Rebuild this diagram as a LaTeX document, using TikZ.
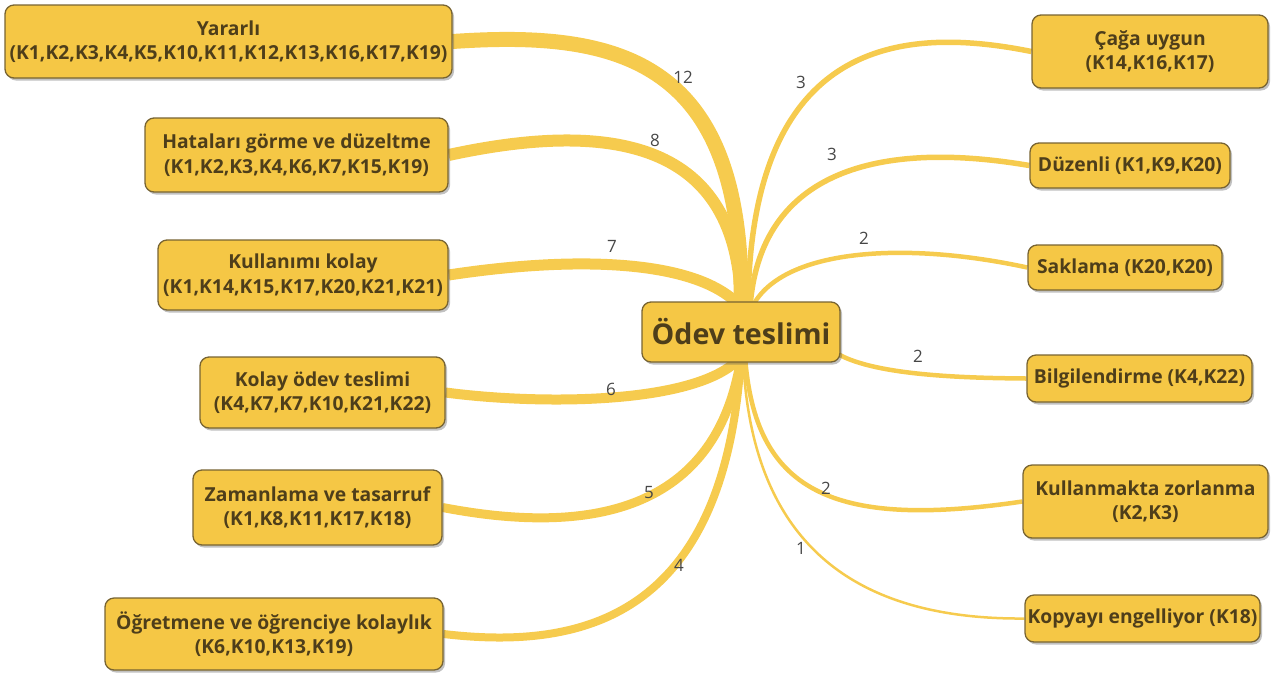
\documentclass[tikz,border=0pt]{standalone}
\usepackage{fontspec}
\setmainfont{Open Sans}
\usetikzlibrary{shadows,backgrounds,calc}
\definecolor{boxfill}{RGB}{245,199,69}
\definecolor{linecol}{RGB}{246,203,78}
\definecolor{boxdraw}{RGB}{120,100,50}
\definecolor{boxtext}{RGB}{78,62,26}
\definecolor{numcol}{RGB}{70,70,70}
\tikzset{
  box/.style={draw=boxdraw, line width=1.3pt, fill=boxfill, rounded corners=9pt,
    text=boxtext, font=\fontsize{19.3}{24.5}\selectfont\bfseries, align=center, inner sep=0pt,
    drop shadow={shadow xshift=2pt, shadow yshift=-2.5pt, opacity=0.35, fill=black!70}},
  centerbox/.style={box, font=\fontsize{28.6}{32}\selectfont\bfseries},
  branch/.style={draw=linecol, line cap=butt},
  num/.style={text=numcol, font=\fontsize{17}{20}\selectfont, inner sep=0pt},
}
\begin{document}
\begin{tikzpicture}[x=1pt,y=-1pt]
\useasboundingbox (0,0) rectangle (1279,673);

% centre
\node[centerbox, minimum width=198pt, minimum height=60pt] (C) at (741,332) {Ödev teslimi};

% left
\node[box, minimum width=447pt, minimum height=73pt] (L1) at (228.5,41.5) {Yararlı\\(K1,K2,K3,K4,K5,K10,K11,K12,K13,K16,K17,K19)};
\node[box, minimum width=303pt, minimum height=74pt] (L2) at (296.5,155) {Hataları görme ve düzeltme\\(K1,K2,K3,K4,K6,K7,K15,K19)};
\node[box, minimum width=290pt, minimum height=70pt] (L3) at (303,275) {Kullanımı kolay\\(K1,K14,K15,K17,K20,K21,K21)};
\node[box, minimum width=245pt, minimum height=71pt] (L4) at (322.5,392.5) {Kolay ödev teslimi\\(K4,K7,K7,K10,K21,K22)};
\node[box, minimum width=249pt, minimum height=75pt] (L5) at (317.5,507.5) {Zamanlama ve tasarruf\\(K1,K8,K11,K17,K18)};
\node[box, minimum width=338pt, minimum height=72pt] (L6) at (274,634) {Öğretmene ve öğrenciye kolaylık\\(K6,K10,K13,K19)};

% right
\node[box, minimum width=236pt, minimum height=73pt] (R1) at (1150,51.5) {Çağa uygun\\(K14,K16,K17)};
\node[box, minimum width=200pt, minimum height=45pt] (R2) at (1130,165.5) {Düzenli (K1,K9,K20)};
\node[box, minimum width=194pt, minimum height=45pt] (R3) at (1125,267.5) {Saklama (K20,K20)};
\node[box, minimum width=225pt, minimum height=47pt] (R4) at (1139.5,378.5) {Bilgilendirme (K4,K22)};
\node[box, minimum width=245pt, minimum height=73pt] (R5) at (1145.5,501.5) {Kullanmakta zorlanma\\(K2,K3)};
\node[box, minimum width=235pt, minimum height=47pt] (R6) at (1142.5,618.5) {Kopyayı engelliyor (K18)};

% branches
\begin{scope}[on background layer]
  \draw[branch, line width=15pt] (L1.east) .. controls (620,30) and (745,60) .. ([yshift=-6pt]C.north);
  \draw[branch, line width=12pt] (L2.east) .. controls (610,120) and (740,140) .. ([yshift=-6pt]C.north);
  \draw[branch, line width=11pt] (L3.east) .. controls (580,255) and (700,260) .. ([yshift=-6pt]C.north);
  \draw[branch, line width=10pt] (L4.east) .. controls (540,405) and (700,405) .. ([yshift=6pt]C.south);
  \draw[branch, line width=9pt] (L5.east) .. controls (560,530) and (715,530) .. ([yshift=6pt]C.south);
  \draw[branch, line width=8pt] (L6.east) .. controls (580,650) and (725,620) .. ([yshift=6pt]C.south);

  \draw[branch, line width=5.5pt] ([xshift=7pt,yshift=-6pt]C.north) .. controls (750,40) and (900,25) .. (R1.west);
  \draw[branch, line width=5.5pt] ([xshift=9pt,yshift=-6pt]C.north) .. controls (760,170) and (880,140) .. (R2.west);
  \draw[branch, line width=4.5pt] ([xshift=11pt,yshift=-6pt]C.north) .. controls (780,250) and (900,240) .. (R3.west);
  \draw[branch, line width=4.5pt] ($(C.east)+(-6,20)$) .. controls (870,375) and (960,378) .. (R4.west);
  \draw[branch, line width=4.5pt] ([xshift=4pt,yshift=6pt]C.south) .. controls (755,490) and (830,530) .. (R5.west);
  \draw[branch, line width=2.5pt] ([xshift=2pt,yshift=6pt]C.south) .. controls (750,520) and (830,620) .. (R6.west);
\end{scope}

% numbers
\node[num] (n12) at (683,77) {12};
\node[num] (n8) at (655,140) {8};
\node[num] (n7) at (612,246) {7};
\node[num] (n6) at (611,389) {6};
\node[num] (n5) at (649,493) {5};
\node[num] (n4) at (679,565) {4};
\node[num] (m1) at (801,82) {3};
\node[num] (m2) at (832,154) {3};
\node[num] (m3) at (864,238) {2};
\node[num] (m4) at (918,356) {2};
\node[num] (m5) at (826,488) {2};
\node[num] (m6) at (801,548) {1};
\end{tikzpicture}
\end{document}
